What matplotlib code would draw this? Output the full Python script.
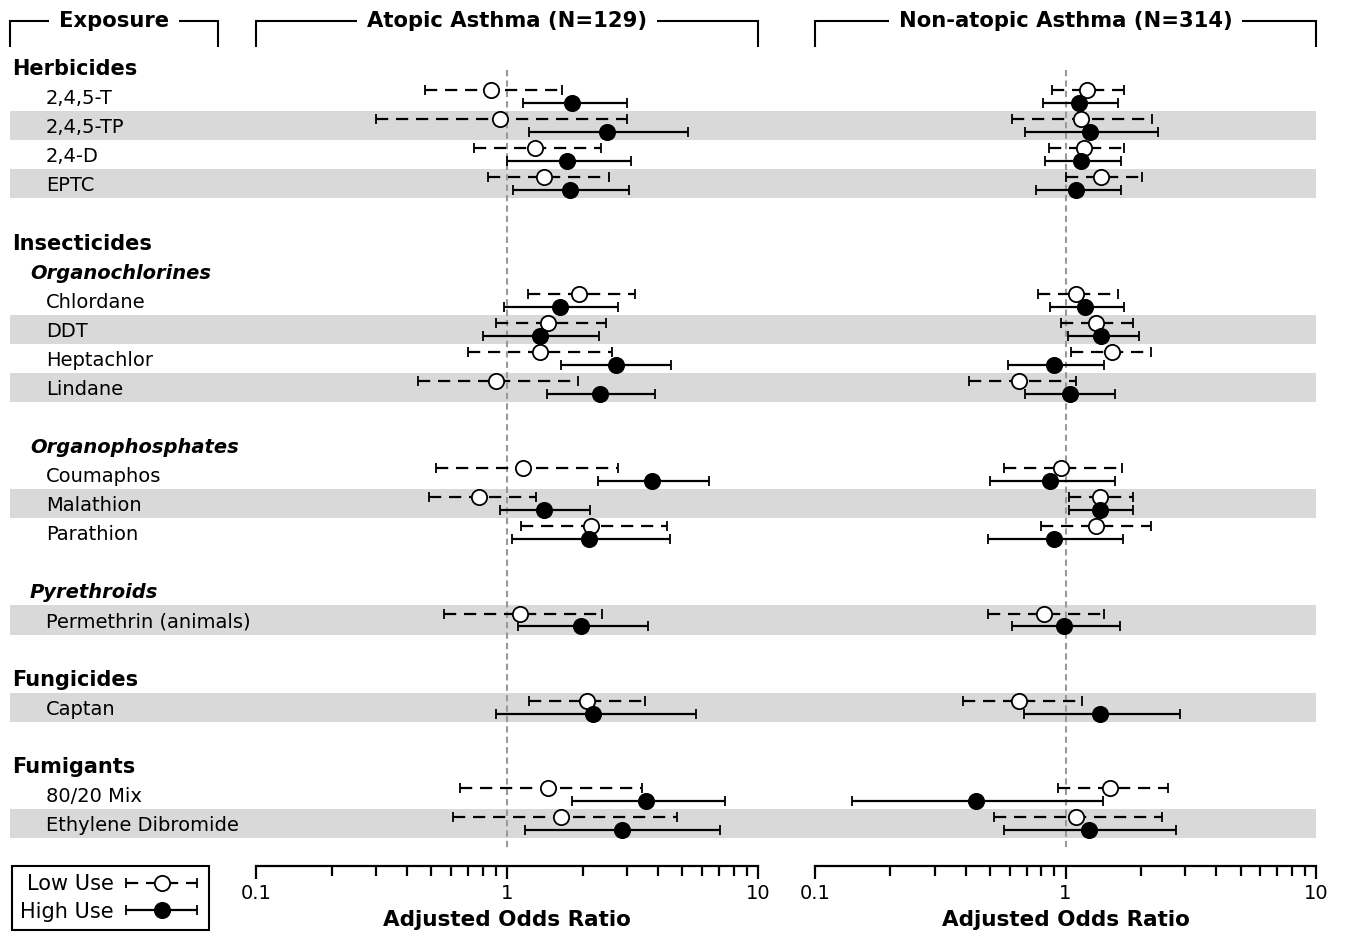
import matplotlib.pyplot as plt
import numpy as np
from matplotlib.container import ErrorbarContainer
from matplotlib.legend_handler import HandlerErrorbar
from matplotlib.ticker import FixedLocator, FixedFormatter, LogLocator, NullFormatter

plt.rcParams['font.family'] = ['DejaVu Sans']

# exposures, top to bottom
exposures = ['2,4,5-T', '2,4,5-TP', '2,4-D', 'EPTC',
             'Chlordane', 'DDT', 'Heptachlor', 'Lindane',
             'Coumaphos', 'Malathion', 'Parathion',
             'Permethrin (animals)', 'Captan',
             '80/20 Mix', 'Ethylene Dibromide']
exposure_rows = [1, 2, 3, 4, 8, 9, 10, 11, 14, 15, 16, 19, 22, 25, 26]
shaded = [0, 1, 0, 1, 0, 1, 0, 1, 0, 1, 0, 1, 1, 0, 1]
class_labels = ['Herbicides', 'Insecticides', 'Fungicides', 'Fumigants']
class_rows = [0, 6, 21, 24]
sub_labels = ['Organochlorines', 'Organophosphates', 'Pyrethroids']
sub_rows = [7, 13, 18]

panel_titles = ['Atopic Asthma (N=129)', 'Non-atopic Asthma (N=314)']

# atopic asthma: odds ratio and 95% CI
atopic_low_or = [0.86, 0.94, 1.29, 1.41, 1.93, 1.45, 1.35, 0.90, 1.16, 0.77, 2.16, 1.13, 2.08, 1.46, 1.64]
atopic_low_lo = [0.47, 0.30, 0.74, 0.84, 1.21, 0.90, 0.70, 0.44, 0.52, 0.49, 1.14, 0.56, 1.22, 0.65, 0.61]
atopic_low_hi = [1.66, 3.02, 2.37, 2.56, 3.24, 2.48, 2.61, 1.91, 2.76, 1.30, 4.34, 2.39, 3.56, 3.45, 4.76]
atopic_high_or = [1.82, 2.50, 1.73, 1.79, 1.62, 1.35, 2.72, 2.35, 3.78, 1.40, 2.12, 1.97, 2.21, 3.58, 2.86]
atopic_high_lo = [1.16, 1.22, 1.00, 1.06, 0.97, 0.80, 1.64, 1.44, 2.31, 0.94, 1.05, 1.11, 0.90, 1.81, 1.18]
atopic_high_hi = [3.02, 5.25, 3.12, 3.05, 2.76, 2.33, 4.50, 3.90, 6.40, 2.15, 4.48, 3.63, 5.66, 7.41, 7.08]

# non-atopic asthma
nonatopic_low_or = [1.22, 1.15, 1.19, 1.39, 1.10, 1.32, 1.53, 0.65, 0.96, 1.37, 1.32, 0.82, 0.65, 1.51, 1.10]
nonatopic_low_lo = [0.88, 0.61, 0.86, 1.00, 0.78, 0.96, 1.05, 0.41, 0.57, 1.03, 0.80, 0.49, 0.39, 0.93, 0.52]
nonatopic_low_hi = [1.72, 2.22, 1.71, 2.02, 1.62, 1.86, 2.19, 1.10, 1.68, 1.86, 2.20, 1.42, 1.16, 2.56, 2.43]
nonatopic_high_or = [1.13, 1.25, 1.15, 1.10, 1.20, 1.39, 0.90, 1.04, 0.87, 1.37, 0.90, 0.99, 1.37, 0.44, 1.24]
nonatopic_high_lo = [0.81, 0.69, 0.83, 0.76, 0.87, 1.02, 0.59, 0.69, 0.50, 1.03, 0.49, 0.61, 0.68, 0.14, 0.57]
nonatopic_high_hi = [1.62, 2.34, 1.66, 1.67, 1.71, 1.96, 1.43, 1.58, 1.58, 1.86, 1.69, 1.65, 2.86, 1.41, 2.76]

W, H = 1350, 938
ROW0, ROWH = 67.5, 29.08  # pixel y of row 0 and row height
TOP, BOTTOM = 53, 866     # pixel extent of the row area / axis line


def px_rect(x0, x1, y0, y1):
    return [x0 / W, 1 - y1 / H, (x1 - x0) / W, (y1 - y0) / H]


row_lim = ((BOTTOM - ROW0) / ROWH, (TOP - ROW0) / ROWH)

fig = plt.figure(figsize=(W / 100, H / 100), dpi=100)

# background: shaded rows and the labels
bg = fig.add_axes(px_rect(10, 1316, TOP, BOTTOM), zorder=0)
bg.set_xlim(10, 1316)
bg.set_ylim(*row_lim)
bg.axis('off')
for r, s in zip(exposure_rows, shaded):
    if s:
        bg.axhspan(r - 0.5, r + 0.5, color='#d9d9d9', lw=0)
for lab, r in zip(exposures, exposure_rows):
    bg.text(46, r, lab, fontsize=14, va='center_baseline', ha='left')
for lab, r in zip(class_labels, class_rows):
    bg.text(12, r, lab, fontsize=15, fontweight='bold', va='center_baseline', ha='left')
for lab, r in zip(sub_labels, sub_rows):
    bg.text(30, r, lab, fontsize=14, fontweight='bold', fontstyle='italic',
            va='center_baseline', ha='left')

# header brackets
hdr = fig.add_axes([0, 0, 1, 1], zorder=0)
hdr.set_xlim(0, W)
hdr.set_ylim(H, 0)
hdr.axis('off')
for x0, x1, lab in [(10, 218, 'Exposure'), (256, 758, panel_titles[0]), (815, 1316, panel_titles[1])]:
    hdr.plot([x0, x0, x1, x1], [46, 21, 21, 46], color='black', lw=1.5,
             solid_joinstyle='miter')
    hdr.text((x0 + x1) / 2, 21, lab, fontsize=15.2, fontweight='bold', ha='center',
             va='center', bbox=dict(facecolor='white', edgecolor='none', pad=7))


def draw_panel(ax, low_or, low_lo, low_hi, high_or, high_lo, high_hi):
    rows = np.array(exposure_rows, dtype=float)
    lo_or = np.array(low_or)
    hi_or = np.array(high_or)
    eb_low = ax.errorbar(lo_or, rows - 0.22,
                         xerr=[lo_or - np.array(low_lo), np.array(low_hi) - lo_or],
                         fmt='o', ms=11, mfc='white', mec='black', mew=1.3,
                         ecolor='black', elinewidth=1.6, capsize=3.6, capthick=2, zorder=3)
    eb_low[2][0].set_linestyle((0, (5.5, 3.5)))
    eb_high = ax.errorbar(hi_or, rows + 0.22,
                          xerr=[hi_or - np.array(high_lo), np.array(high_hi) - hi_or],
                          fmt='o', ms=11, mfc='black', mec='black', mew=1.3,
                          ecolor='black', elinewidth=1.6, capsize=3.6, capthick=2, zorder=3)
    ax.vlines(1, 0.1, 26.95, colors='#999999', lw=1.5, linestyles=(0, (3, 2)), zorder=1)

    ax.set_xscale('log')
    ax.set_xlim(0.1, 10)
    ax.set_ylim(*row_lim)
    ax.patch.set_visible(False)
    for side in ['top', 'left', 'right']:
        ax.spines[side].set_visible(False)
    ax.spines['bottom'].set_linewidth(1.6)
    ax.set_yticks([])
    ax.xaxis.set_major_locator(FixedLocator([0.1, 1, 10]))
    ax.xaxis.set_major_formatter(FixedFormatter(['0.1', '1', '10']))
    ax.xaxis.set_minor_locator(LogLocator(base=10, subs=np.arange(2, 10)))
    ax.xaxis.set_minor_formatter(NullFormatter())
    ax.tick_params(axis='x', which='major', length=9, width=1.6, labelsize=14, pad=4)
    ax.tick_params(axis='x', which='minor', length=7, width=1.6)
    ax.set_xlabel('Adjusted Odds Ratio', fontsize=15.5, fontweight='bold', labelpad=5)
    return eb_low, eb_high


ax1 = fig.add_axes(px_rect(256, 758, TOP, BOTTOM), zorder=2)
eb_low, eb_high = draw_panel(ax1, atopic_low_or, atopic_low_lo, atopic_low_hi,
                             atopic_high_or, atopic_high_lo, atopic_high_hi)
ax2 = fig.add_axes(px_rect(815, 1316, TOP, BOTTOM), zorder=2)
draw_panel(ax2, nonatopic_low_or, nonatopic_low_lo, nonatopic_low_hi,
           nonatopic_high_or, nonatopic_high_lo, nonatopic_high_hi)

leg = fig.legend([eb_low, eb_high], ['Low Use', 'High Use'], loc='upper left',
                 bbox_to_anchor=(12 / W, 1 - 866 / H), borderaxespad=0,
                 markerfirst=False, handler_map={ErrorbarContainer: HandlerErrorbar(xerr_size=1.7)},
                 handlelength=3.7, handletextpad=0.45, labelspacing=0.35, borderpad=0.4,
                 fontsize=15, fancybox=False, edgecolor='black', framealpha=1)
leg.get_frame().set_linewidth(1.5)

fig.savefig('out.png', dpi=100)
